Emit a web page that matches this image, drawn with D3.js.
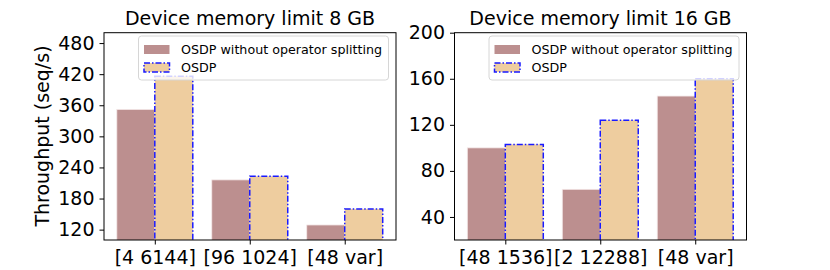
<!DOCTYPE html>
<html lang="en">
<head>
<meta charset="UTF-8">
<script src="https://d3js.org/d3.v7.min.js"></script>
<style>
  body { margin: 0; background: #fff; }
  svg { display: block; font-family: "DejaVu Sans", sans-serif; }
</style>
<title>OSDP throughput</title>
</head>
<body>
<svg id="chart" width="830" height="270"></svg>
<script>
// values
const categories8 = ["[4 6144]", "[96 1024]", "[48 var]"];
const noSplit8 = [352, 216, 129];
const osdp8 = [416, 223, 160];
const yTicks8 = [120, 180, 240, 300, 360, 420, 480];

const categories16 = ["[48 1536]", "[2 12288]", "[48 var]"];
const noSplit16 = [100, 64, 145];
const osdp16 = [103, 124, 160];
const yTicks16 = [40, 80, 120, 160, 200];

const seriesNames = ["OSDP without operator splitting", "OSDP"];

const svg = d3.select("#chart");
const plotTop = 32.7, plotBottom = 240, barW = 0.4;

function drawPanel(id, left, right, title, cats, a, b, yDomain, yTicks) {
    const x = d3.scaleLinear().domain([-0.535, 2.54]).range([left, right]);
    const y = d3.scaleLinear().domain(yDomain).range([plotBottom, plotTop]);
    const g = svg.append("g");

    g.append("clipPath").attr("id", "clip" + id)
        .append("rect")
        .attr("x", left).attr("y", plotTop)
        .attr("width", right - left).attr("height", plotBottom - plotTop);

    const bars = g.append("g").attr("clip-path", "url(#clip" + id + ")");

    // brown bars left of the tick
    bars.selectAll("rect.nosplit")
        .data(a)
        .enter().append("rect")
        .attr("class", "nosplit")
        .attr("x", (d, i) => x(i - barW))
        .attr("width", (d, i) => x(i) - x(i - barW))
        .attr("y", d => y(d))
        .attr("height", d => y(0) - y(d))
        .attr("fill", "#bc8f8f")
        .attr("stroke", "#f4e8e8")
        .attr("stroke-width", 0.8);

    // OSDP bars right of the tick, dash-dot blue edge
    bars.selectAll("rect.osdp")
        .data(b)
        .enter().append("rect")
        .attr("class", "osdp")
        .attr("x", (d, i) => x(i))
        .attr("width", (d, i) => x(i + barW) - x(i))
        .attr("y", d => y(d))
        .attr("height", d => y(0) - y(d))
        .attr("fill", "#eecd9f")
        .attr("stroke", "#1a1aff")
        .attr("stroke-width", 1.5)
        .attr("stroke-dasharray", "6,2,1.5,2");

    // axes
    const yAxis = d3.axisLeft(y).tickValues(yTicks).tickSize(4.5).tickPadding(5);
    const ya = g.append("g").attr("transform", `translate(${left},0)`).call(yAxis);
    const xAxis = d3.axisBottom(x).tickValues(d3.range(cats.length))
        .tickFormat(i => cats[i]).tickSize(4.5).tickPadding(5);
    const xa = g.append("g").attr("transform", `translate(0,${plotBottom})`).call(xAxis);
    [ya, xa].forEach(ax => {
        ax.select(".domain").remove();
        ax.selectAll("text").attr("font-size", 19).attr("fill", "#000")
            .attr("font-family", "DejaVu Sans");
        ax.selectAll("line").attr("stroke", "#000").attr("stroke-width", 1);
    });
    xa.selectAll("text").attr("dy", "0.78em");

    g.append("rect")
        .attr("x", left).attr("y", plotTop)
        .attr("width", right - left).attr("height", plotBottom - plotTop)
        .attr("fill", "none").attr("stroke", "#000").attr("stroke-width", 1);

    g.append("text")
        .attr("x", (left + right) / 2).attr("y", 25)
        .attr("text-anchor", "middle")
        .attr("font-size", 19)
        .text(title);

    // legend
    const lx = right - 257.5, ly = 36;
    const lg = g.append("g");
    lg.append("rect")
        .attr("x", lx).attr("y", ly)
        .attr("width", 250).attr("height", 44)
        .attr("rx", 3)
        .attr("fill", "#fff").attr("fill-opacity", 0.8)
        .attr("stroke", "#d6d6d6").attr("stroke-width", 1);
    seriesNames.forEach((name, k) => {
        const cy = ly + 13.5 + k * 18;
        const h = lg.append("rect")
            .attr("x", lx + 5.5).attr("y", cy - 4.5)
            .attr("width", 25.5).attr("height", 9);
        if (k == 0) {
            h.attr("fill", "#bc8f8f");
        } else {
            h.attr("fill", "#eecd9f").attr("stroke", "#1a1aff")
                .attr("stroke-width", 1.5).attr("stroke-dasharray", "6,2,1.5,2");
        }
        lg.append("text")
            .attr("x", lx + 42.5).attr("y", cy)
            .attr("dy", "0.36em")
            .attr("font-size", 12.7)
            .text(name);
    });
}

drawPanel("a", 104, 396, "Device memory limit 8 GB", categories8, noSplit8, osdp8, [100, 500], yTicks8);
drawPanel("b", 454.5, 746.5, "Device memory limit 16 GB", categories16, noSplit16, osdp16, [20, 200], yTicks16);

svg.append("text")
    .attr("transform", "translate(49,136) rotate(-90)")
    .attr("text-anchor", "middle")
    .attr("font-size", 19)
    .text("Throughput (seq/s)");
</script>
</body>
</html>
